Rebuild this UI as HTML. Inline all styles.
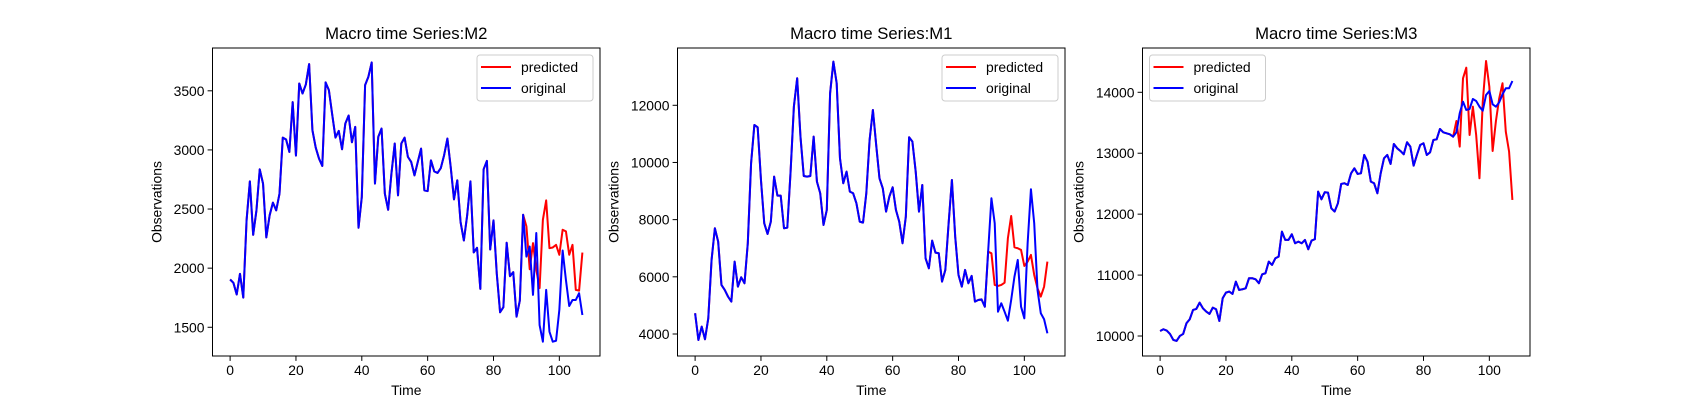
<!DOCTYPE html>
<html><head><meta charset="utf-8">
<style>
html,body{margin:0;padding:0;background:#fff;}
svg{display:block;font-family:"Liberation Sans","DejaVu Sans",sans-serif;}
</style></head>
<body>
<svg id="fig" width="1700" height="400" viewBox="0 0 1700 400" xmlns="http://www.w3.org/2000/svg"></svg>
<script>
const m2Original = [1904,1876,1777,1952,1751,2404,2734,2282,2489,2836,2715,2260,2446,2554,2489,2630,3104,3088,2983,3404,2952,3562,3477,3554,3726,3167,3020,2927,2864,3571,3506,3302,3104,3161,3006,3223,3291,3065,3195,2342,2602,3548,3619,3740,2715,3110,3181,2630,2494,2800,3054,2616,3054,3104,2941,2898,2785,2898,3011,2658,2652,2912,2819,2805,2847,2955,3096,2856,2582,2743,2390,2234,2446,2734,2133,2172,1825,2836,2907,2158,2404,1952,1627,1670,2215,1932,1966,1590,1726,2452,2098,2183,1774,2297,1519,1378,1816,1463,1378,1386,1647,2149,1900,1680,1731,1731,1788,1604];
const m2PredTail = [2452,2353,1991,2212,1986,1831,2409,2573,2169,2175,2197,2113,2325,2311,2113,2197,1816,1810,2132];
const m1Original = [4724,3791,4258,3815,4549,6590,7697,7231,5716,5540,5307,5132,6531,5657,5983,5774,7173,9971,11312,11230,9388,7872,7499,7931,9505,8840,8840,7697,7721,9680,11953,12944,10904,9528,9505,9528,10904,9330,8922,7814,8339,12420,13527,12770,10146,9272,9680,8980,8922,8572,7931,7896,8922,10787,11837,10612,9446,9097,8280,8805,9132,8339,7931,7173,8106,10881,10729,9680,8280,9213,6648,6298,7266,6846,6823,5832,6240,7872,9388,7406,6065,5657,6240,5774,6030,5132,5190,5210,4955,6879,8747,7872,4780,5074,4780,4465,5190,6005,6590,4955,4548,7172,9062,7872,5540,4724,4514,4024];
const m1PredTail = [6879,6823,5715,5680,5715,5795,7348,8128,7033,6999,6940,6380,6530,6765,6065,5600,5307,5655,6530];
const m3Original = [10083,10111,10089,10034,9936,9920,10001,10034,10209,10275,10428,10445,10548,10455,10401,10362,10466,10439,10247,10619,10712,10729,10691,10893,10756,10767,10784,10948,10948,10931,10866,11013,11030,11221,11166,11276,11303,11714,11577,11577,11670,11522,11549,11522,11577,11424,11566,11588,12370,12244,12359,12353,12096,12042,12178,12496,12507,12479,12671,12753,12660,12671,12972,12862,12534,12507,12343,12671,12917,12972,12824,13152,13081,13037,12982,13180,13108,12796,12971,13135,13163,12971,13015,13217,13228,13398,13343,13327,13311,13272,13343,13655,13846,13710,13726,13890,13857,13764,13698,13956,14021,13803,13764,13836,13967,14066,14066,14185];
const m3PredTail = [13272,13529,13108,14230,14404,13299,13764,13299,12589,13846,14514,14092,13037,13529,13901,14148,13353,13026,12233];
const predStart = 89;
const xTicks = [0,20,40,60,80,100];
const m2YTicks = [1500,2000,2500,3000,3500];
const m1YTicks = [4000,6000,8000,10000,12000];
const m3YTicks = [10000,11000,12000,13000,14000];

const NS = "http://www.w3.org/2000/svg";
const svg = document.getElementById('fig');
function el(tag, attrs, parent){
  const e = document.createElementNS(NS, tag);
  for (const k in attrs) e.setAttribute(k, attrs[k]);
  (parent||svg).appendChild(e);
  return e;
}
function fullPred(orig, tail){ return orig.slice(0, predStart).concat(tail); }

function drawPanel(cfg){
  const L = cfg.left, R = cfg.left + 387.5, T = 48, B = 356;
  const g = el('g', {});
  
  
  const n = cfg.orig.length;
  const xmin = -(n-1)*0.05, xmax = (n-1)*1.05;
  const sx = v => L + (v - xmin)/(xmax - xmin)*(R - L);
  const sy = v => B - (v - cfg.ymin)/(cfg.ymax - cfg.ymin)*(B - T);
  // ticks x
  xTicks.forEach(t => {
    const x = sx(t);
    const tk = el('line', {x1:x, x2:x, y1:B, y2:B+4.9, stroke:'#000', 'stroke-width':1}, g);
    
    
    const tl = el('text', {x:x, y:B+19, 'text-anchor':'middle', 'font-size':13.9, fill:'#000'}, g);
    
    
    tl.textContent = t;
  });
  cfg.yTicks.forEach(t => {
    const y = sy(t);
    const tk = el('line', {x1:L-4.9, x2:L, y1:y, y2:y, stroke:'#000', 'stroke-width':1}, g);
    
    
    const tl = el('text', {x:L-8, y:y+5, 'text-anchor':'end', 'font-size':13.9, fill:'#000'}, g);
    
    
    tl.textContent = t;
  });
  // lines
  const pts = arr => arr.map((v,i) => sx(i).toFixed(2)+','+sy(v).toFixed(2)).join(' ');
  const pl = el('polyline', {points: pts(fullPred(cfg.orig, cfg.pred)), fill:'none', stroke:'#ff0000', 'stroke-width':2, 'stroke-linejoin':'round'}, g);
  
  
  const ol = el('polyline', {points: pts(cfg.orig), fill:'none', stroke:'#0000ff', 'stroke-width':2, 'stroke-linejoin':'round'}, g);
  
  
  // frame
  const fr = el('rect', {x:L, y:T, width:R-L, height:B-T, fill:'none', stroke:'#000', 'stroke-width':1}, g);
  
  
  // title, labels
  const ti = el('text', {x:(L+R)/2, y:39, 'text-anchor':'middle', 'font-size':16.7, fill:'#000'}, g);
  
  
  ti.textContent = cfg.title;
  const xl = el('text', {x:(L+R)/2, y:395, 'text-anchor':'middle', 'font-size':13.9, fill:'#000'}, g);
  
  
  xl.textContent = 'Time';
  const yx = L - cfg.ylabOff;
  const yl = el('text', {x:yx, y:(T+B)/2, 'text-anchor':'middle', 'font-size':13.9, fill:'#000', transform:'rotate(-90 '+yx+' '+((T+B)/2)+')'}, g);
  
  
  yl.textContent = 'Observations';
  // legend
  const lx = cfg.legendLeft ? L + 7 : R - 123;
  const lg = el('g', {}, g);
  
  
  el('rect', {x:lx, y:55, width:116, height:46, rx:3, fill:'#fff', 'fill-opacity':0.8, stroke:'#cccccc', 'stroke-width':1}, lg);
  [['predicted','#ff0000',67],['original','#0000ff',88]].forEach(e => {
    const le = el('g', {}, lg);
    
    
    el('line', {x1:lx+4, x2:lx+34, y1:e[2], y2:e[2], stroke:e[1], 'stroke-width':2}, le);
    const t = el('text', {x:lx+44, y:e[2]+5, 'font-size':13.9, fill:'#000'}, le);
    t.textContent = e[0];
  });
}
drawPanel({name:'m2', left:212.5, title:'Macro time Series:M2', orig:m2Original, pred:m2PredTail, ymin:1257, ymax:3862, yTicks:m2YTicks, ylabOff:51, legendLeft:false});
drawPanel({name:'m1', left:677.5, title:'Macro time Series:M1', orig:m1Original, pred:m1PredTail, ymin:3230, ymax:14004, yTicks:m1YTicks, ylabOff:59, legendLeft:false});
drawPanel({name:'m3', left:1142.5, title:'Macro time Series:M3', orig:m3Original, pred:m3PredTail, ymin:9672, ymax:14727, yTicks:m3YTicks, ylabOff:59, legendLeft:true});
</script>
</body></html>
